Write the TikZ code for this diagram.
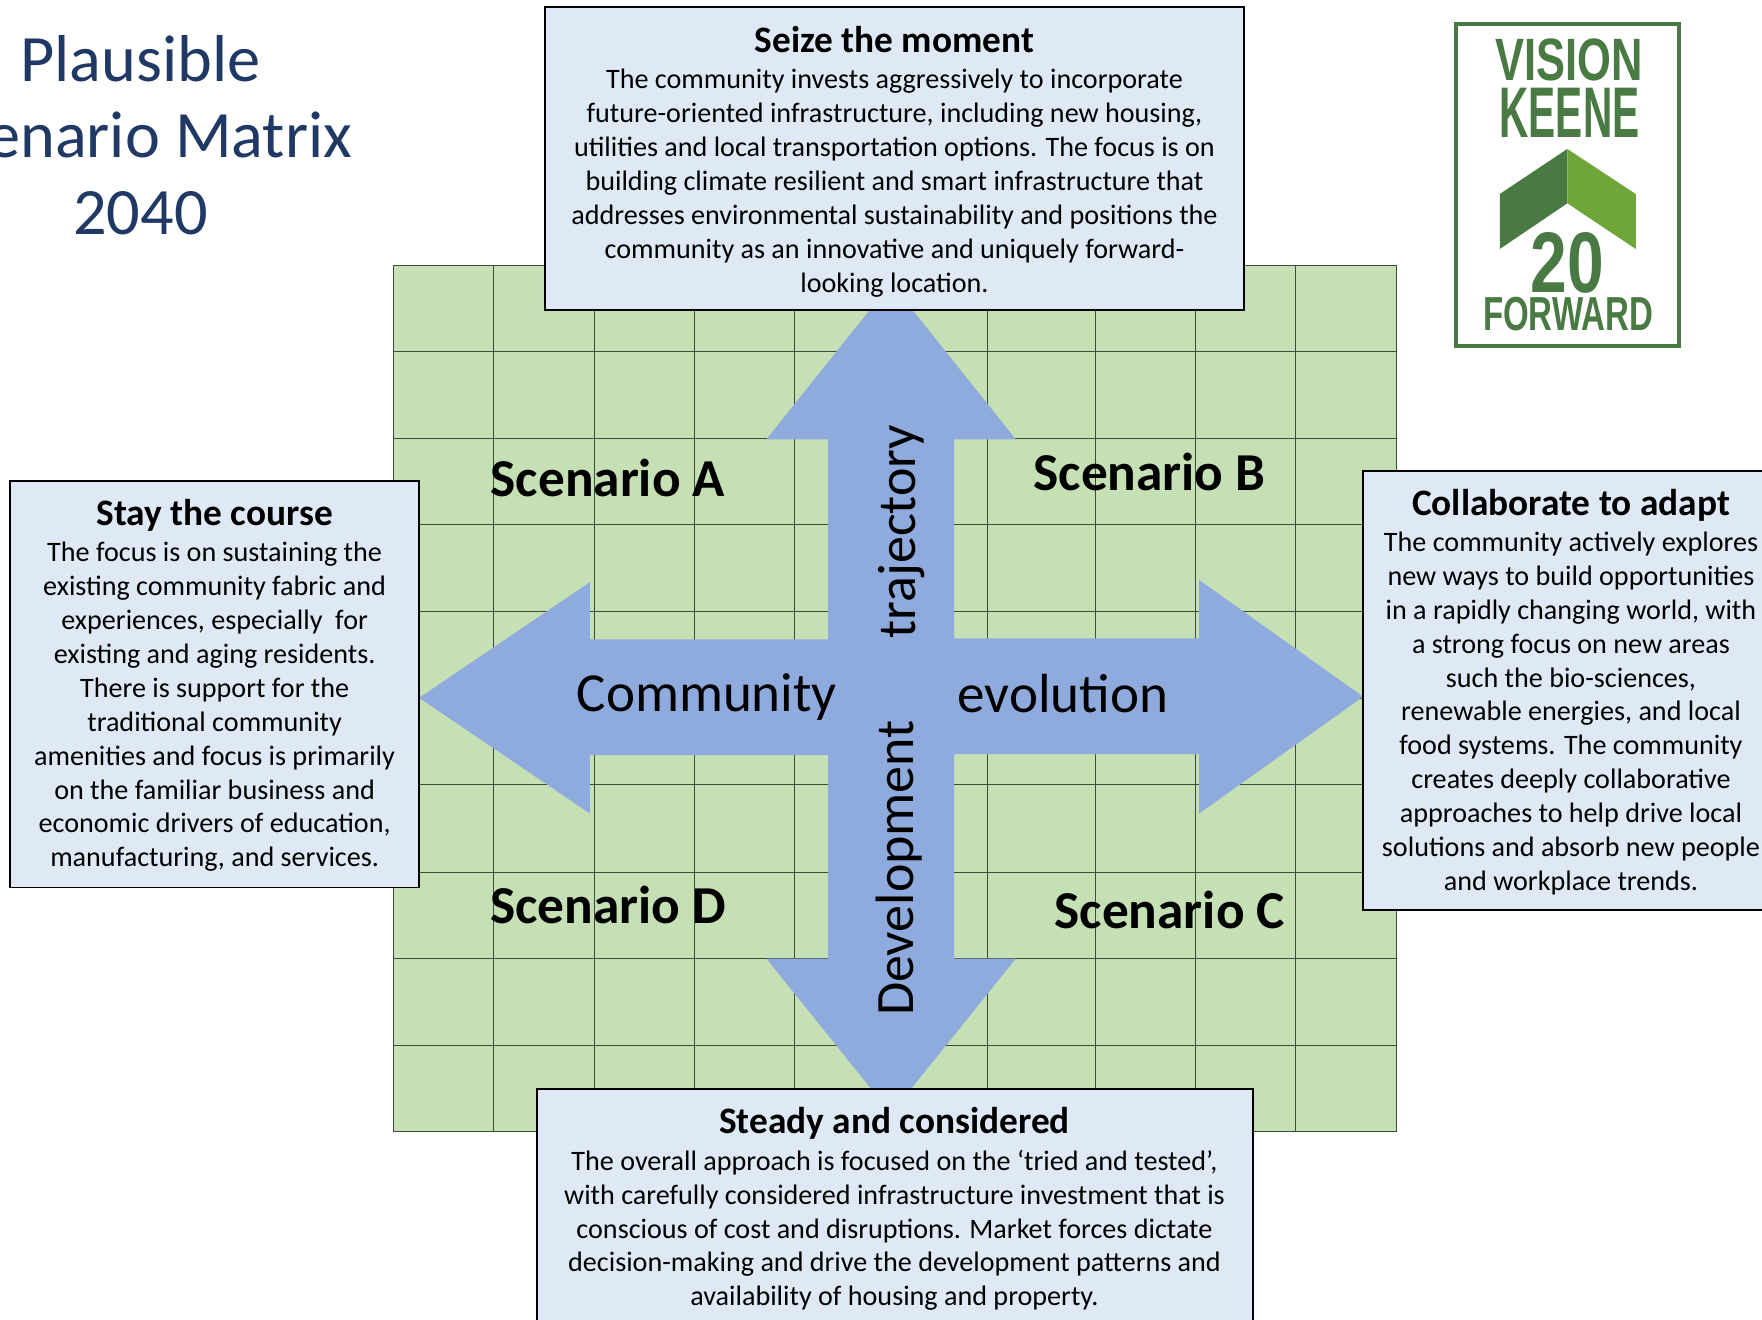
\documentclass[tikz,border=0pt]{standalone}
\usepackage{fontspec}
\usepackage{graphicx}
\setmainfont{Carlito}
\newfontfamily\logofont{Liberation Sans}
\definecolor{gridgreen}{HTML}{C5E0B4}
\definecolor{gridline}{HTML}{3F4A38}
\definecolor{arrowblue}{HTML}{8FAADC}
\definecolor{boxblue}{HTML}{DEE9F5}
\definecolor{titleblue}{HTML}{203864}
\definecolor{logodark}{HTML}{4A7A44}
\definecolor{logolight}{HTML}{70A53A}
\newcommand{\bodyfont}{\fontsize{21.1pt}{25.4pt}\selectfont}
\newcommand{\headline}[1]{{\fontsize{28pt}{29pt}\selectfont\bfseries #1}\\[1.9pt]}
\tikzset{
  infobox/.style={draw=black,line width=1.2pt,fill=boxblue,inner sep=0pt},
  infotext/.style={align=center,inner sep=0pt,font=\bodyfont,text=black},
  scenariolabel/.style={font=\fontsize{40pt}{44pt}\selectfont\bfseries,text=black,inner sep=0pt},
  axislabel/.style={font=\fontsize{41.3pt}{44pt}\selectfont,text=black,inner sep=0pt},
  vaxislabel/.style={font=\fontsize{40.5pt}{44pt}\selectfont,text=black,inner sep=0pt,rotate=90},
  titletext/.style={font=\fontsize{49.7pt}{57.3pt}\selectfont,text=titleblue,align=center,inner sep=0pt},
  logotext/.style={font=\logofont\bfseries,text=logodark,inner sep=0pt},
}
\begin{document}
\begin{tikzpicture}[x=0.84278pt,y=-0.84278pt]
\useasboundingbox (0,0) rectangle (1568,1174);
\clip (0,0) rectangle (1568,1174);
% grid
\fill[gridgreen] (350,236) rectangle (1243,1007);
\foreach \gx in {350,439,529,618,707,793,879,975,1064,1153,1243}
  \draw[gridline,line width=0.5pt] (\gx,236) -- (\gx,1007);
\foreach \gy in {236,313,390,467,544,621,698,776,853,930,1007}
  \draw[gridline,line width=0.5pt] (350,\gy) -- (1243,\gy);
% cross arrow
\fill[arrowblue] (793,252) -- (904,391) -- (849,391) -- (849,568) -- (1067,568) -- (1067,516) -- (1213,620)
  -- (1067,724) -- (1067,671) -- (849,671) -- (849,853) -- (904,853) -- (793,991) -- (682,853) -- (737,853)
  -- (737,672) -- (525,672) -- (525,724) -- (373,621) -- (525,518) -- (525,569) -- (737,569) -- (737,391) -- (682,391) -- cycle;
% boxes
\node[infobox,minimum width=524.2pt,minimum height=227.5pt] (seizebox) at (796,141) {};
\node[infotext] (seize) at (796,143.75) {\headline{Seize the moment}
The community invests aggressively to incorporate\\
future-oriented infrastructure, including new housing,\\
utilities and local transportation options. The focus is on\\
building climate resilient and smart infrastructure that\\
addresses environmental sustainability and positions the\\
community as an innovative and uniquely forward-\\
looking location.};
\node[infobox,minimum width=306.8pt,minimum height=305pt] (staybox) at (191,609) {};
\node[infotext] (stay) at (191,610) {\headline{Stay the course}
The focus is on sustaining the\\
existing community fabric and\\
experiences, especially\ \ for\\
existing and aging residents.\\
There is support for the\\
traditional community\\
amenities and focus is primarily\\
on the familiar business and\\
economic drivers of education,\\
manufacturing, and services.};
\node[infobox,minimum width=311.8pt,minimum height=329.5pt] (adaptbox) at (1398,614.5) {};
\node[infotext] (adapt) at (1398,615.75) {\headline{Collaborate to adapt}
The community actively explores\\
new ways to build opportunities\\
in a rapidly changing world, with\\
a strong focus on new areas\\
such the bio-sciences,\\
renewable energies, and local\\
food systems. The community\\
creates deeply collaborative\\
approaches to help drive local\\
solutions and absorb new people\\
and workplace trends.};
\node[infobox,minimum width=536.8pt,minimum height=180pt] (steadybox) at (796.5,1076) {};
\node[infotext] (steady) at (796,1076) {\headline{Steady and considered}
The overall approach is focused on the ‘tried and tested’,\\
with carefully considered infrastructure investment that is\\
conscious of cost and disruptions. Market forces dictate\\
decision-making and drive the development patterns and\\
availability of housing and property.};
% scenario labels
\node[scenariolabel] (sa) at (541,425) {Scenario A};
\node[scenariolabel] (sb) at (1023,420) {Scenario B};
\node[scenariolabel] (sd) at (541,805) {Scenario D};
\node[scenariolabel] (sc) at (1041,810) {Scenario C};
% axis labels
\node[axislabel] (ca) at (629,620) {Community};
\node[axislabel] (cb) at (946,617.5) {evolution};
\node[vaxislabel] (cc) at (802,473) {trajectory};
\node[vaxislabel] (cd) at (800,772.5) {Development};
% title
\node[titletext] (title) at (125,120) {Plausible\\Scenario Matrix\\2040};
% logo
\begin{scope}[x=0.75pt,y=-0.75pt]
\node[draw=logodark,line width=3pt,minimum width=167pt,minimum height=241.3pt,inner sep=0pt] (logoframe) at (1567.7,184.8) {};
\fill[logodark] (1567.3,149) -- (1499.7,194) -- (1499.7,249) -- (1567.3,203.3) -- cycle;
\fill[logolight] (1567.3,149) -- (1635.7,194) -- (1635.7,249) -- (1567.3,203.3) -- cycle;
\node[logotext] (vision) at (1569,60) {\resizebox{110.5pt}{31.3pt}{VISION}};
\node[logotext] (keene) at (1569.5,113) {\resizebox{105pt}{37pt}{KEENE}};
\node[logotext] (twenty) at (1567.5,263) {\resizebox{55pt}{45pt}{20}};
\node[logotext] (forward) at (1568,314.5) {\resizebox{127.5pt}{25pt}{FORWARD}};
\end{scope}
\end{tikzpicture}
\end{document}
